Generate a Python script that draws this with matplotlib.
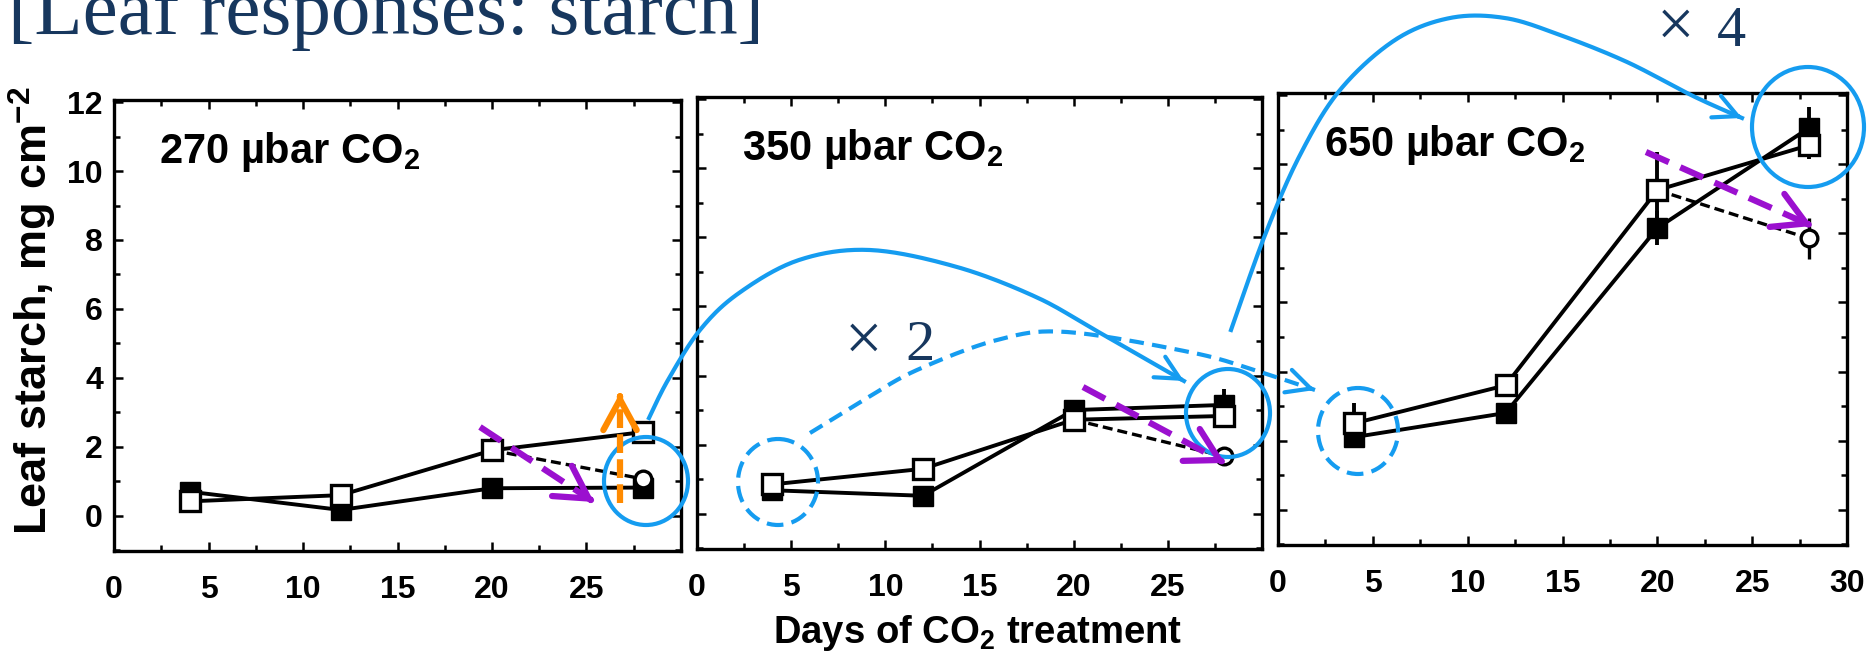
import numpy as np
import matplotlib
matplotlib.use("Agg")
import matplotlib.pyplot as plt
from matplotlib.patches import Ellipse
from matplotlib.ticker import MultipleLocator

plt.rcParams['font.family'] = ['Liberation Sans', 'DejaVu Sans']
plt.rcParams['mathtext.default'] = 'regular'

# data
days = [4, 12, 20, 28]
panel_labels = ['270 µbar CO$_2$', '350 µbar CO$_2$', '650 µbar CO$_2$']

filled = [[0.70, 0.17, 0.80, 0.82],
          [0.68, 0.52, 3.00, 3.15],
          [2.10, 2.80, 8.15, 11.05]]
filled_err = [[0.10, 0.10, 0.15, 0.12],
              [0.10, 0.10, 0.30, 0.45],
              [0.20, 0.15, 0.50, 0.60]]
opened = [[0.42, 0.60, 1.90, 2.43],
          [0.85, 1.30, 2.72, 2.83],
          [2.50, 3.60, 9.25, 10.55]]
opened_err = [[0.10, 0.10, 0.35, 0.15],
              [0.10, 0.15, 0.35, 0.30],
              [0.60, 0.20, 1.10, 0.40]]
dash_days = [20, 28]
dashed = [[1.90, 1.07],
          [2.72, 1.66],
          [9.25, 7.85]]
dashed_err = [[0, 0.15], [0, 0.12], [0, 0.60]]

W, H = 1874, 657
fig = plt.figure(figsize=(W / 100, H / 100), dpi=100)

# panel boxes in pixels: left, top, right, bottom
boxes = [[114, 100, 681, 551], [697, 97, 1262, 549], [1278, 93, 1847, 545]]

for i, (l, t, r, b) in enumerate(boxes):
    ax = fig.add_axes([l / W, 1 - b / H, (r - l) / W, (b - t) / H])
    ax.errorbar(days, filled[i], yerr=filled_err[i], color='black', lw=2.8,
                marker='s', ms=14, mfc='black', mec='black', capsize=0, zorder=3)
    ax.errorbar(dash_days, dashed[i], yerr=dashed_err[i], color='black', lw=2.4,
                ls=(0, (3, 1.5)), marker='o', ms=12, mfc='white', mec='black',
                mew=2.4, capsize=0, markevery=[1], zorder=3)
    ax.errorbar(days, opened[i], yerr=opened_err[i], color='black', lw=2.8,
                marker='s', ms=14, mfc='white', mec='black', mew=2.4, capsize=0,
                zorder=4)
    ax.set_xlim(0, 30)
    ax.set_ylim(-1.02, 12.06)
    ax.xaxis.set_major_locator(MultipleLocator(5))
    ax.xaxis.set_minor_locator(MultipleLocator(2.5))
    ax.yaxis.set_major_locator(MultipleLocator(2))
    ax.yaxis.set_minor_locator(MultipleLocator(1))
    ax.tick_params(which='both', direction='in', top=True, right=True, width=1.8,
                   labelsize=23)
    ax.tick_params(which='major', length=6.5)
    ax.tick_params(which='minor', length=4)
    ax.tick_params(axis='x', pad=17)
    ax.tick_params(axis='y', pad=8)
    if i < 2:
        ax.set_xticks([0, 5, 10, 15, 20, 25])
    else:
        ax.set_xticks([0, 5, 10, 15, 20, 25, 30])
    for lab in ax.get_xticklabels() + ax.get_yticklabels():
        lab.set_fontweight('bold')
    if i > 0:
        ax.set_yticklabels([])
    for s in ax.spines.values():
        s.set_linewidth(2.4)
    ax.text(0.08, 0.86, panel_labels[i], transform=ax.transAxes, fontsize=30,
            fontweight='bold', va='baseline', ha='left')

fig.text(33 / W, 1 - 311 / H, 'Leaf starch, mg cm$^{-2}$', rotation=90,
         ha='center', va='center', fontsize=32.5, fontweight='bold')
fig.text(977 / W, 1 - 633 / H, 'Days of CO$_2$ treatment', ha='center',
         va='center', fontsize=27.5, fontweight='bold')

# slide annotations, drawn on a pixel overlay
ov = fig.add_axes([0, 0, 1, 1], zorder=10)
ov.set_xlim(0, W)
ov.set_ylim(H, 0)
ov.axis('off')

navy = '#17375E'
blue = '#159CF0'
purple = '#9B10CF'
orange = '#FF8A00'

# slide title, cut off by the top edge as in the slide
ov.text(8, 34, '[Leaf responses: starch]', family='Liberation Serif', fontsize=57,
        color=navy, va='baseline', ha='left', clip_on=False)
for x0, y0, digit in [(845, 360, '2'), (1657, 46, '4')]:
    ov.text(x0, y0, '×', family='Liberation Serif', fontsize=48, color=navy,
            va='baseline', ha='left')
    ov.text(x0 + 60, y0, digit, family='Liberation Serif', fontsize=42, color=navy,
            va='baseline', ha='left')


def smooth(pts, n=20):
    p = np.array(pts, float)
    p = np.vstack([p[0], p, p[-1]])
    out = []
    for k in range(1, len(p) - 2):
        p0, p1, p2, p3 = p[k - 1], p[k], p[k + 1], p[k + 2]
        t = np.linspace(0, 1, n, endpoint=False)[:, None]
        out.append(0.5 * (2 * p1 + (-p0 + p2) * t
                          + (2 * p0 - 5 * p1 + 4 * p2 - p3) * t ** 2
                          + (-p0 + 3 * p1 - 3 * p2 + p3) * t ** 3))
    out.append(p[-2][None])
    return np.vstack(out)


def head(x0, y0, x1, y1, color, lw, hl, hw):
    d = np.hypot(x1 - x0, y1 - y0)
    bx, by = x1 - (x1 - x0) / d * 4, y1 - (y1 - y0) / d * 4
    ov.annotate('', xy=(x1, y1), xytext=(bx, by),
                arrowprops=dict(arrowstyle='->,head_length=%g,head_width=%g' % (hl, hw),
                                color=color, lw=lw, shrinkA=0, shrinkB=0))


circles = [(646, 481, 84, 88, '-'), (778, 482, 80, 86, (0, (4, 2))),
           (1228, 413, 84, 88, '-'), (1358, 431, 80, 86, (0, (4, 2))),
           (1808, 127, 112, 120, '-')]
for cx, cy, cw, ch, ls in circles:
    ov.add_patch(Ellipse((cx, cy), cw, ch, fill=False, ec=blue, lw=3, ls=ls))

curve_a = [(649, 418), (668, 380), (700, 330), (739, 293), (799, 260), (870, 250),
           (957, 267), (1036, 297), (1095, 330), (1170, 373), (1184, 381)]
curve_b = [(1231, 330), (1265, 235), (1300, 155), (1340, 90), (1395, 40), (1450, 18),
           (1505, 18), (1560, 35), (1627, 62), (1693, 96), (1742, 118)]
curve_c = [(810, 433), (867, 398), (917, 370), (997, 340), (1067, 332), (1194, 353),
           (1260, 372), (1315, 390)]

for pts, ls in [(curve_a, '-'), (curve_b, '-'), (curve_c, (0, (3.5, 2)))]:
    c = smooth(pts)
    ov.plot(c[:, 0], c[:, 1], color=blue, lw=3, ls=ls)
    head(c[-3, 0], c[-3, 1], c[-1, 0], c[-1, 1], blue, 3, 1.7, 0.85)

purple_arrows = [((480, 427), (594, 502)), ((1083, 387), (1225, 463)),
                 ((1646, 152), (1812, 226))]
for (x0, y0), (x1, y1) in purple_arrows:
    ov.plot([x0, x1 - (x1 - x0) * 0.06], [y0, y1 - (y1 - y0) * 0.06], color=purple,
            lw=4.5, ls=(0, (4, 2)))
    head(x0, y0, x1, y1, purple, 4.5, 2.3, 1.3)

ov.plot([620, 620], [503, 400], color=orange, lw=4.5, ls=(0, (3, 1)))
head(620, 503, 620, 393, orange, 4.5, 2.2, 1.2)

fig.savefig('out.png', dpi=100)
